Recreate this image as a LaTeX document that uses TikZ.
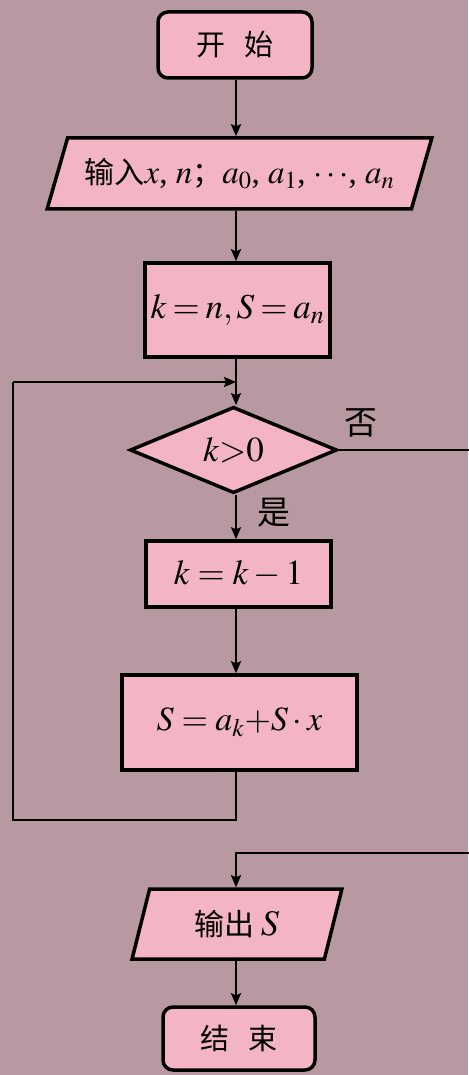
\documentclass[tikz,border=0pt]{standalone}
\usepackage{mathptmx}
\usepackage{fontspec}
\setmainfont{Liberation Serif}
\newfontfamily\cjk{Noto Sans CJK SC}
\usetikzlibrary{shapes.geometric,arrows.meta}
\definecolor{bgc}{RGB}{184,152,161}
\definecolor{boxc}{RGB}{243,180,196}
\tikzset{
  base/.style={draw=black, line width=3.5pt, fill=boxc, inner sep=0pt, text=black},
  procbox/.style={base, rectangle},
  termbox/.style={base, rectangle, rounded corners=10pt},
  iobox/.style={base, trapezium, trapezium stretches=true},
  decbox/.style={base, diamond},
  conn/.style={line width=2.2pt, draw=black},
  arr/.style={conn, -{Stealth[length=12pt,width=10pt,inset=2pt]}},
  lbl/.style={inner sep=0pt, font=\cjk\fontsize{33}{33}\selectfont},
  mfont/.style={font=\fontsize{35}{35}\selectfont}
}
\begin{document}
\begin{tikzpicture}[x=1pt,y=-1pt]
\fill[bgc] (0,0) rectangle (468,1075);
\useasboundingbox (0,0) rectangle (468,1075);
\coordinate (ax) at (236,0);

\node[termbox, minimum width=154pt, minimum height=66pt, font=\cjk\fontsize{29}{29}\selectfont] (start) at (235,45) {开\hspace{0.65em}始};

\node[iobox, trapezium left angle=59, trapezium right angle=121, minimum width=385pt, minimum height=71pt] (input) at (239.5,173.5)
  {\fontsize{33}{33}\selectfont{\cjk\fontsize{30}{30}\selectfont 输入}$x$, $n${\cjk\fontsize{30}{30}\selectfont ；}$a_0$, $a_1$, $\cdots$, $a_n$};

\node[procbox, mfont, minimum width=185pt, minimum height=94pt] (init) at (237.5,310) {$\thickmuskip=3mu k=n,S=a_n$};

\node[decbox, mfont, minimum width=207pt, minimum height=74pt] (dec) at (233.5,450) {$k{>}0$};

\node[procbox, mfont, minimum width=185pt, minimum height=66pt] (dek) at (238.5,574) {$k=k-1$};

\node[procbox, font=\fontsize{34}{34}\selectfont, minimum width=235pt, minimum height=95pt] (upd) at (239.5,722.5) {$S=a_k{+}S\cdot x$};

\node[iobox, trapezium left angle=73, trapezium right angle=107, minimum width=210pt, minimum height=70pt] (out) at (237,924)
  {{\cjk\fontsize{30}{30}\selectfont 输出}\hspace{6pt}\fontsize{36}{36}\selectfont$S$};

\node[termbox, minimum width=152pt, minimum height=63pt, font=\cjk\fontsize{29}{29}\selectfont] (stop) at (239,1038.5) {结\hspace{0.65em}束};

\node[lbl] (no) at (361,423) {否};
\node[lbl] (yes) at (274,513) {是};

\coordinate (j) at (236,382);
\coordinate (lt) at (13,382);
\coordinate (lb) at (13,820);
\coordinate (rt) at (470,450);
\coordinate (rb) at (470,853);

\draw[arr] (start.south -| ax) -- (input.north -| ax);
\draw[arr] (input.south -| ax) -- (init.north -| ax);
\draw[arr] (init.south -| ax) -- (dec.north -| ax);
\draw[arr] (dec.south -| ax) -- (dek.north -| ax);
\draw[arr] (dek.south -| ax) -- (upd.north -| ax);
\draw[conn] (upd.south -| ax) -- (ax |- lb) -- (lb) -- (lt);
\draw[arr] (lt) -- (j);
\draw[conn] (dec.east) -- (rt);
\draw[arr] (rb) -- (ax |- rb) -- (out.north -| ax);
\draw[arr] (out.south -| ax) -- (stop.north -| ax);
\end{tikzpicture}
\end{document}
